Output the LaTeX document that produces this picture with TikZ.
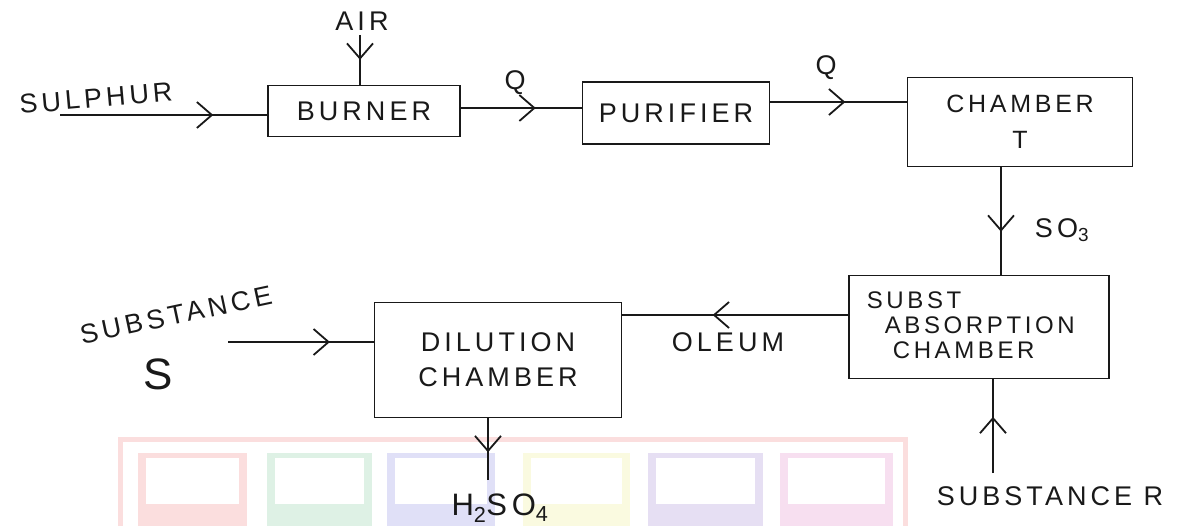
\documentclass[tikz,border=0pt]{standalone}
\usepackage{fontspec}
\setmainfont{Liberation Sans}
\usetikzlibrary{arrows.meta, decorations.markings}

\definecolor{ink}{RGB}{25,25,25}
\definecolor{wmpink}{RGB}{251,222,222}
\definecolor{wmgreen}{RGB}{222,241,229}
\definecolor{wmblue}{RGB}{224,224,247}
\definecolor{wmyellow}{RGB}{250,250,224}
\definecolor{wmpurple}{RGB}{230,223,243}
\definecolor{wmrose}{RGB}{247,223,240}

\newfontfamily\hand[LetterSpace = 15]{Liberation Sans}

\begin{document}
\begin{tikzpicture}[x = 1pt, y = -1pt, line width = 1.8pt, draw = ink,
	every node/.style = {text = ink, font = \hand\fontsize{27}{35}\selectfont},
	block/.style = {draw, line width = 1.8pt, inner sep = 0pt, align = center},
	midarrow/.style = {postaction = {decorate, decoration = {markings,
		mark = at position #1 with {\arrow{Straight Barb[length = 15pt, width = 26pt, line width = 1.8pt]}}}}}]

	\useasboundingbox (0, 0) rectangle (1189, 526);

	% Faint watermark behind the bottom row
	
	\draw [wmpink, line width = 5pt] (120, 526) -- (120, 440) -- (905, 440) -- (905, 526);
	\foreach \xa/\xb/\c in {138/247/wmpink, 267/372/wmgreen, 387/495/wmblue,
		523/630/wmyellow, 648/763/wmpurple, 780/893/wmrose} {
		\fill [\c] (\xa, 453) rectangle (\xb, 526);
		\fill [white] (\xa + 8, 458) rectangle (\xb - 8, 504);
	}

	% Units
	
	\node [block, minimum width = 192, minimum height = 51] (burner) at (364, 111) {BURNER};
	\node [block, minimum width = 187, minimum height = 62] (purifier) at (676, 113) {PURIFIER};
	\node [block, minimum width = 225, minimum height = 89,
		font = \hand\fontsize{25}{36}\selectfont] (chamber) at (1020, 122) {CHAMBER\\T};
	\node [block, minimum width = 260, minimum height = 103] (absorber) at (979, 327) {};
	\node [block, minimum width = 247, minimum height = 115] (dilution) at (498, 360) {DILUTION\\CHAMBER};

	\node [align = left, anchor = north west, inner sep = 0pt,
		font = \hand\fontsize{24}{34}\selectfont] (absorbtext) at (866, 291)
		{SUBST\\[-9pt]\hspace{18pt}ABSORPTION\\[-9pt]\hspace{26pt}CHAMBER};

	% Feeds and products
	
	\coordinate (sulphurin) at (60, 115);
	\coordinate (airin) at (360, 35);
	\coordinate (substsin) at (228, 342);
	\coordinate (substrin) at (993, 473);
	\coordinate (acidout) at (488, 480);

	\draw [midarrow = 0.74] (sulphurin) -- (burner.west |- sulphurin);
	\draw [midarrow = 0.5] (airin) -- (airin |- burner.north);
	\draw [midarrow = 0.62] (burner.east |- 0, 108) -- (purifier.west |- 0, 108);
	\draw [midarrow = 0.55] (purifier.east |- 0, 102) -- (chamber.west |- 0, 102);
	\draw [midarrow = 0.6] (chamber.south -| 1001, 0) -- (absorber.north -| 1001, 0);
	\draw [midarrow = 0.6] (absorber.west |- 0, 315) -- (dilution.east |- 0, 315);
	\draw [midarrow = 0.7] (substsin) -- (dilution.west |- substsin);
	\draw [midarrow = 0.6] (substrin) -- (substrin |- absorber.south);
	\draw [midarrow = 0.55] (dilution.south -| acidout) -- (acidout);

	% Labels
	
	\node [rotate = 12, inner sep = 0pt] (substslbl) at (176, 315) {SUBSTANCE};
	\node [font = \hand\fontsize{44}{44}\selectfont, inner sep = 0pt] (slbl) at (158, 374) {S};
	\node [rotate = 5] (sulphurlbl) at (96, 98) {SULPHUR};
	\node (airlbl) at (362, 21) {AIR};
	\node (qone) at (515, 83) {Q};
	\node (qtwo) at (826, 68) {Q};
	\node (solbl) at (1062, 230) {SO\textsubscript{3}};
	\node (oleumlbl) at (728, 342) {OLEUM};
	\node [font = \hand\fontsize{31}{36}\selectfont] (acidlbl) at (500, 508) {H\textsubscript{2}SO\textsubscript{4}};
	\node (substrlbl) at (1050, 496) {SUBSTANCE R};

\end{tikzpicture}
\end{document}
